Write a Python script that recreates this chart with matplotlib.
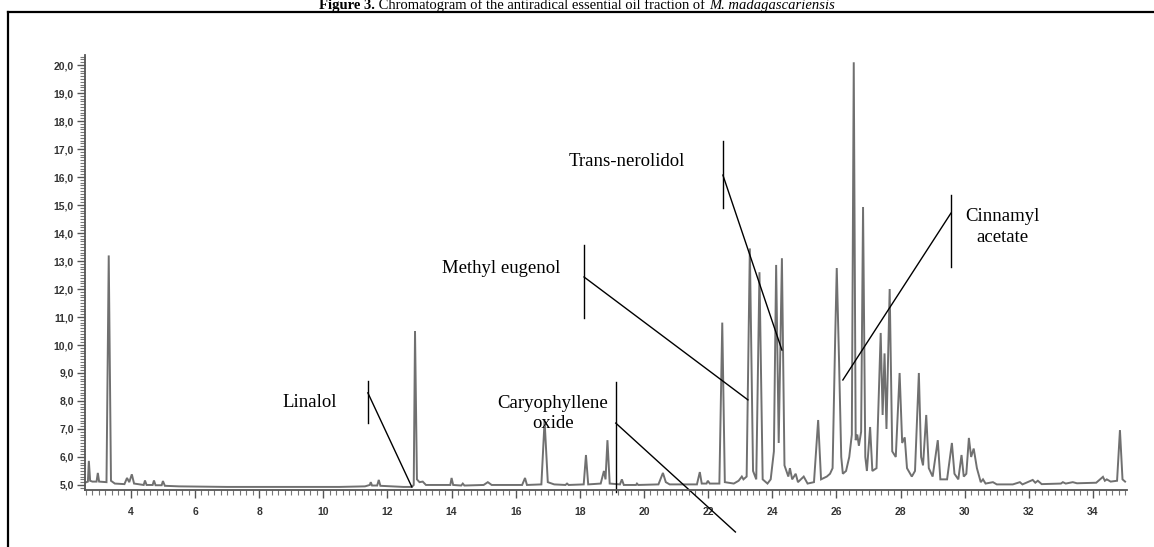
import matplotlib
matplotlib.use("Agg")
import matplotlib.pyplot as plt
from matplotlib.ticker import MultipleLocator, FuncFormatter
from matplotlib.lines import Line2D

# ---------------- data ----------------
retention_time = [
    2.57, 2.62, 2.66, 2.69, 2.73, 2.80, 2.93, 2.97, 3.01, 3.24, 3.31, 3.38, 3.50,
    3.80, 3.88, 3.95, 4.03, 4.10, 4.40, 4.44, 4.49, 4.68, 4.72, 4.77, 4.96, 5.00,
    5.06, 5.50, 7.00, 9.00, 10.50, 11.30, 11.45, 11.48, 11.52, 11.68, 11.73, 11.78,
    12.50, 12.76, 12.82, 12.86, 12.92, 13.00, 13.10, 13.20, 13.50, 13.96, 14.00,
    14.05, 14.30, 14.35, 14.40, 15.00, 15.13, 15.25, 16.20, 16.29, 16.35, 16.80,
    16.90, 17.00, 17.20, 17.55, 17.60, 17.65, 18.12, 18.19, 18.26, 18.65, 18.75,
    18.80, 18.86, 18.93, 19.25, 19.31, 19.37, 19.75, 19.78, 19.82, 20.45, 20.59,
    20.68, 20.80, 21.65, 21.74, 21.80, 21.95, 21.99, 22.05, 22.35, 22.44, 22.52,
    22.80, 22.95, 23.05, 23.10, 23.20, 23.30, 23.40, 23.50, 23.60, 23.70, 23.85,
    23.95, 24.05, 24.12, 24.20, 24.30, 24.38, 24.50, 24.55, 24.62, 24.73, 24.80,
    24.98, 25.10, 25.30, 25.43, 25.52, 25.70, 25.80, 25.88, 25.96, 26.01, 26.08,
    26.15, 26.20, 26.30, 26.40, 26.48, 26.54, 26.60, 26.65, 26.70, 26.77, 26.83,
    26.90, 26.95, 27.05, 27.12, 27.25, 27.38, 27.44, 27.50, 27.56, 27.66, 27.74,
    27.85, 27.97, 28.05, 28.13, 28.20, 28.35, 28.45, 28.57, 28.64, 28.70, 28.80,
    28.88, 29.00, 29.16, 29.24, 29.45, 29.60, 29.68, 29.80, 29.90, 29.97, 30.05,
    30.13, 30.20, 30.28, 30.38, 30.50, 30.57, 30.65, 30.88, 31.00, 31.50, 31.72,
    31.80, 32.12, 32.20, 32.28, 32.40, 33.00, 33.06, 33.15, 33.37, 33.50, 34.10,
    34.31, 34.37, 34.43, 34.55, 34.75, 34.84, 34.92, 35.00,
]
signal = [
    5.08, 5.10, 5.12, 5.86, 5.15, 5.12, 5.12, 5.43, 5.12, 5.10, 13.20, 5.15, 5.05,
    5.03, 5.25, 5.10, 5.38, 5.05, 5.00, 5.16, 5.00, 5.00, 5.16, 4.99, 4.99, 5.14,
    4.97, 4.95, 4.93, 4.93, 4.93, 4.95, 5.00, 5.10, 4.98, 4.98, 5.18, 4.97,
    4.93, 4.93, 5.00, 10.50, 5.20, 5.10, 5.12, 5.00, 5.00, 5.00, 5.25,
    5.00, 4.98, 5.05, 4.98, 5.00, 5.10, 5.00, 5.00, 5.25, 5.00, 5.02,
    7.30, 5.10, 5.02, 5.00, 5.05, 5.00, 5.02, 6.07, 5.02, 5.05, 5.50,
    5.20, 6.60, 5.05, 5.02, 5.20, 5.00, 5.00, 5.05, 5.00, 5.02, 5.43,
    5.10, 5.02, 5.02, 5.46, 5.05, 5.05, 5.15, 5.05, 5.05, 10.80, 5.10,
    5.05, 5.15, 5.30, 5.20, 5.30, 13.45, 5.50, 5.20, 12.60, 5.20, 5.05,
    5.20, 6.20, 12.86, 6.50, 13.10, 5.70, 5.30, 5.60, 5.20, 5.40, 5.10,
    5.30, 5.05, 5.10, 7.32, 5.20, 5.30, 5.40, 5.60, 10.20, 12.75, 9.50,
    6.00, 5.40, 5.50, 6.00, 6.80, 20.10, 6.60, 6.80, 6.40, 6.90, 14.93,
    6.00, 5.50, 7.07, 5.50, 5.60, 10.43, 7.50, 9.70, 7.00, 12.00, 6.20,
    6.00, 9.00, 6.50, 6.70, 5.60, 5.30, 5.50, 9.00, 6.00, 5.70, 7.50,
    5.60, 5.30, 6.60, 5.20, 5.20, 6.50, 5.40, 5.20, 6.07, 5.30, 5.40,
    6.68, 6.00, 6.30, 5.60, 5.10, 5.20, 5.05, 5.10, 5.02, 5.02, 5.10,
    5.02, 5.18, 5.08, 5.15, 5.03, 5.05, 5.10, 5.05, 5.10, 5.06, 5.08,
    5.29, 5.15, 5.20, 5.12, 5.15, 6.96, 5.20, 5.12,
]

x_ticks = [4, 6, 8, 10, 12, 14, 16, 18, 20, 22, 24, 26, 28, 30, 32, 34]
y_ticks = [5, 6, 7, 8, 9, 10, 11, 12, 13, 14, 15, 16, 17, 18, 19, 20]

# annotation labels: text, text position, bar (x, y0, y1), leader start y, leader end (x, y)
labels = ["Linalol", "Methyl eugenol", "Caryophyllene\noxide", "Trans-nerolidol", "Cinnamyl\nacetate"]
label_pos = [(9.58, 7.96), (15.55, 12.75), (17.16, 7.55), (19.47, 16.54), (31.19, 14.2)]
bar_x = [11.39, 18.13, 19.12, 22.46, 29.57]
bar_y = [(7.21, 8.71), (10.96, 13.57), (4.75, 8.68), (14.89, 17.29), (12.79, 15.36)]
leader_start_y = [8.29, 12.43, 7.21, 16.07, 14.71]
leader_end = [(12.76, 4.93), (23.24, 8.04), (22.85, 3.32), (24.30, 9.82), (26.20, 8.75)]
label_spacing = [1.0, 1.0, 1.2, 1.0, 1.3]

# ---------------- figure ----------------
W, H = 1154, 547
fig = plt.figure(figsize=(W / 100, H / 100), dpi=100)
ax = fig.add_axes([85 / W, 1 - 490 / H, (1127 - 85) / W, (490 - 55) / H])

ax.plot(retention_time, signal, color="#707070", lw=1.4, solid_joinstyle="miter")
ax.set_xlim(2.57, 35.06)
ax.set_ylim(4.82, 20.36)

for s in ("top", "right"):
    ax.spines[s].set_visible(False)
for s in ("left", "bottom"):
    ax.spines[s].set_color("#555555")
    ax.spines[s].set_linewidth(1.3)

ax.set_xticks(x_ticks)
ax.set_xticklabels([str(v) for v in x_ticks])
ax.xaxis.set_minor_locator(MultipleLocator(0.2))
ax.set_yticks(y_ticks)
ax.yaxis.set_major_formatter(FuncFormatter(lambda v, p: f"{v:.1f}".replace(".", ",")))
ax.yaxis.set_minor_locator(MultipleLocator(0.1))
ax.tick_params(axis="both", which="major", direction="out", length=6, width=1.0,
               color="#555555", labelsize=7.5, labelcolor="#333333")
ax.tick_params(axis="both", which="minor", direction="out", length=3.5, width=0.8,
               color="#777777")
ax.tick_params(axis="x", pad=6)
ax.tick_params(axis="y", pad=2)
for lab in ax.get_xticklabels() + ax.get_yticklabels():
    lab.set_fontfamily("Liberation Sans")
    lab.set_fontweight("bold")

# annotations
for txt, (tx, ty), bx, (b0, b1), ly, (ex, ey), lsp in zip(labels, label_pos, bar_x, bar_y,
                                                           leader_start_y, leader_end,
                                                           label_spacing):
    ax.text(tx, ty, txt, family="Liberation Serif", fontsize=13.5, ha="center",
            va="center", linespacing=lsp, color="black")
    ax.add_line(Line2D([bx, bx], [b0, b1], color="black", lw=1.0, clip_on=False))
    ax.add_line(Line2D([bx, ex], [ly, ey], color="black", lw=1.0, clip_on=False))

# frame of the figure panel (left and top edges)
fig.add_artist(Line2D([8 / W, 8 / W], [0, 1 - 12 / H], color="black", lw=1.6,
                      transform=fig.transFigure))
fig.add_artist(Line2D([8 / W, 1], [1 - 12 / H, 1 - 12 / H], color="black", lw=1.6,
                      transform=fig.transFigure))

# title (bold / regular / italic pieces)
fig.canvas.draw()
r = fig.canvas.get_renderer()
parts = [("Figure 3.", "bold", "normal"),
         (" Chromatogram of the antiradical essential oil fraction of ", "normal", "normal"),
         ("M. madagascariensis", "normal", "italic")]
objs = []
for t, w, st in parts:
    objs.append(fig.text(0, 1 - 9.5 / H, t, family="Liberation Serif", fontsize=10.5,
                         fontweight=w, style=st, va="baseline", ha="left"))
widths = [o.get_window_extent(r).width for o in objs]
x0 = (W - sum(widths)) / 2
for o, wd in zip(objs, widths):
    o.set_x(x0 / W)
    x0 += wd

fig.savefig("out.png", dpi=100)
